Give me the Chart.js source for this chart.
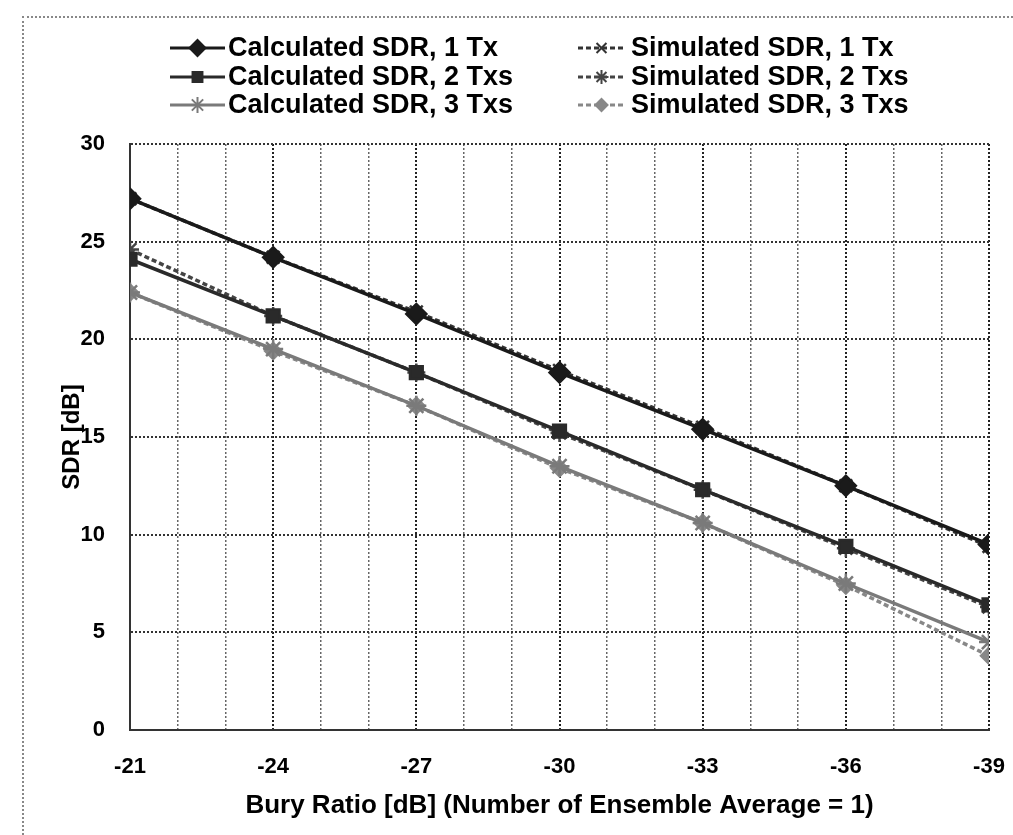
<!DOCTYPE html>
<html>
<head>
<meta charset="utf-8">
<script src="https://cdn.jsdelivr.net/npm/chart.js@4.4.1/dist/chart.umd.min.js"></script>
<style>
  body { margin: 0; background: #fff; }
  #wrap { position: relative; width: 1013px; height: 835px; }
  #frame { position: absolute; left: 22px; top: 16px; right: 0; bottom: 0;
           border-top: 2px dotted #888; border-left: 2px dotted #888; }
  canvas { position: absolute; left: 0; top: 0; }
</style>
</head>
<body>
<div id="wrap">
  <div id="frame"></div>
  <canvas id="sdrChart" width="1013" height="835"></canvas>
</div>
<script>
// bury ratio in dB, one point every 3 dB
const buryRatio = [-21, -24, -27, -30, -33, -36, -39];

const calc1Tx = [27.2, 24.2, 21.3, 18.3, 15.4, 12.5, 9.5];
const calc2Tx = [24.1, 21.2, 18.3, 15.3, 12.3, 9.4, 6.4];
const calc3Tx = [22.4, 19.5, 16.6, 13.5, 10.6, 7.5, 4.5];
const sim1Tx = [27.2, 24.2, 21.4, 18.4, 15.5, 12.5, 9.4];
const sim2Tx = [24.6, 21.2, 18.3, 15.2, 12.3, 9.3, 6.3];
const sim3Tx = [22.4, 19.4, 16.6, 13.4, 10.6, 7.4, 3.8];

const labels = [
  'Calculated SDR, 1 Tx', 'Calculated SDR, 2 Txs', 'Calculated SDR, 3 Txs',
  'Simulated SDR, 1 Tx', 'Simulated SDR, 2 Txs', 'Simulated SDR, 3 Txs'
];

const FONT = '"Liberation Sans", Arial, sans-serif';

function pts(values) {
  return buryRatio.map((x, i) => ({ x: x, y: values[i] }));
}

function series(label, values, color, style, radius, dashed) {
  return {
    label: label,
    data: pts(values),
    borderColor: color,
    backgroundColor: color,
    borderWidth: 3.5,
    borderDash: dashed ? [5, 3] : [],
    pointStyle: style,
    pointRadius: radius,
    pointBorderColor: color,
    pointBackgroundColor: color,
    pointBorderWidth: 2.5,
    tension: 0
  };
}

const datasets = [
  series(labels[0], calc1Tx, '#1a1a1a', 'rectRot', 10, false),
  series(labels[1], calc2Tx, '#2a2a2a', 'rect', 9, false),
  series(labels[2], calc3Tx, '#7a7a7a', 'star', 10, false),
  series(labels[3], sim1Tx, '#333', 'crossRot', 9, true),
  series(labels[4], sim2Tx, '#444', 'star', 9, true),
  series(labels[5], sim3Tx, '#888', 'rectRot', 8, true)
];

// legend: two columns, three rows, line + marker + bold text
const legendPlugin = {
  id: 'sdrLegend',
  afterDraw(chart) {
    const ctx = chart.ctx;
    const rows = [48, 77, 105];
    const cols = [{ x0: 170, x1: 225, tx: 228 }, { x0: 578, x1: 625, tx: 631 }];
    chart.data.datasets.forEach((ds, i) => {
      const col = cols[Math.floor(i / 3)];
      const y = rows[i % 3];
      ctx.save();
      ctx.strokeStyle = ds.borderColor;
      ctx.lineWidth = 3;
      ctx.setLineDash(ds.borderDash);
      ctx.beginPath();
      ctx.moveTo(col.x0, y);
      ctx.lineTo(col.x1, y);
      ctx.stroke();
      ctx.setLineDash([]);
      ctx.fillStyle = ds.backgroundColor;
      ctx.lineWidth = 2;
      Chart.helpers.drawPoint(ctx, {
        pointStyle: ds.pointStyle,
        radius: ds.pointRadius - 2,
        rotation: 0,
        borderWidth: 2
      }, (col.x0 + col.x1) / 2, y);
      ctx.fillStyle = '#000';
      ctx.font = 'bold 27px ' + FONT;
      ctx.textBaseline = 'middle';
      ctx.textAlign = 'left';
      ctx.fillText(ds.label, col.tx, y + 1);
      ctx.restore();
    });
  }
};

new Chart(document.getElementById('sdrChart'), {
  type: 'line',
  data: { datasets },
  options: {
    responsive: false,
    devicePixelRatio: 1,
    animation: false,
    layout: { padding: { top: 144, right: 24, left: 0, bottom: 0 } },
    plugins: {
      legend: { display: false },
      tooltip: { enabled: false }
    },
    scales: {
      x: {
        type: 'linear',
        min: -39,
        max: -21,
        reverse: true,
        afterFit: s => { s.height = 105; s.paddingLeft = 0; s.paddingRight = 0; },
        border: { display: true, color: '#333', width: 2, dash: [2, 2] },
        grid: {
          drawTicks: false,
          color: c => (c.tick && c.tick.value % 3 === 0 ? '#222' : '#666'),
          lineWidth: c => (c.tick && c.tick.value % 3 === 0 ? 2 : 1.5)
        },
        ticks: {
          stepSize: 1,
          autoSkip: false,
          maxRotation: 0,
          padding: 24,
          color: '#000',
          font: { family: FONT, size: 22, weight: 'bold' },
          callback: v => (v % 3 === 0 ? String(v) : '')
        },
        title: {
          display: true,
          text: 'Bury Ratio [dB] (Number of Ensemble Average = 1)',
          color: '#000',
          font: { family: FONT, size: 26, weight: 'bold' },
          padding: { top: 0, bottom: 14 }
        }
      },
      y: {
        min: 0,
        max: 30,
        afterFit: s => { s.width = 130; s.paddingTop = 0; s.paddingBottom = 0; },
        border: { display: true, color: '#333', width: 2, dash: [2, 2] },
        grid: { drawTicks: false, color: '#333', lineWidth: 2 },
        ticks: {
          stepSize: 5,
          padding: 25,
          color: '#000',
          font: { family: FONT, size: 22, weight: 'bold' }
        },
        title: {
          display: true,
          text: 'SDR [dB]',
          color: '#000',
          font: { family: FONT, size: 24, weight: 'bold' },
          padding: { top: 58, bottom: 0 }
        }
      }
    }
  },
  plugins: [legendPlugin]
});
</script>
</body>
</html>
